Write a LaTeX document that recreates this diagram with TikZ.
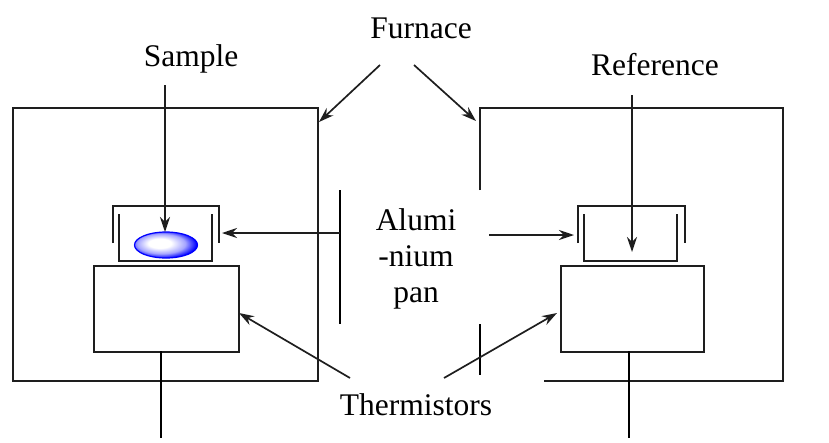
\documentclass[tikz,border=0pt]{standalone}
\usepackage{fontspec}
\setmainfont{Liberation Serif}
\usetikzlibrary{arrows.meta,shapes.geometric}
\definecolor{ink}{HTML}{1E1E1E}
\pgfdeclareradialshading{pelletshade}{\pgfpoint{-6bp}{4bp}}{
  color(0bp)=(white); color(9bp)=(white); color(19bp)=(blue!35); color(27bp)=(blue); color(50bp)=(blue)}
\tikzset{
  wall/.style={draw=ink,line width=1.6pt},
  lead/.style={draw=black,line width=1.4pt},
  pointer/.style={draw=ink,line width=1.7pt,-{Stealth[length=15pt,width=10pt]}},
  lab/.style={font=\fontsize{31.5}{36}\selectfont,text=black,inner sep=0pt,align=center},
  boxshape/.style={draw=ink,line width=1.6pt,rectangle,inner sep=0pt,anchor=north west},
}
\begin{document}
\begin{tikzpicture}[x=1pt,y=-1pt]
\useasboundingbox (0,0) rectangle (829,442);
% labels
\node[lab] (furnace) at (421,28) {Furnace};
\node[lab] (sample) at (191,59) {Sample};
\node[lab] (reference) at (655,65) {Reference};
\node[lab] (alu) at (416,259) {Alumi\\-nium\\pan};
\node[lab] (therm) at (416,405) {Thermistors};
% furnaces
\draw[wall] (318,381) -- (13,381) -- (13,108) -- (318,108) -- cycle;
\draw[wall] (480,190) -- (480,108) -- (783,108) -- (783,381) -- (544,381);
\draw[lead] (480,324) -- (480,375);
\draw[lead] (340,190) -- (340,324);
% blocks
\node[boxshape,minimum width=145pt,minimum height=86pt] (blockL) at (93,265) {};
\node[boxshape,minimum width=143pt,minimum height=86pt] (blockR) at (560,265) {};
% pans
\draw[wall] (113,243) -- (113,206) -- (219,206) -- (219,243);
\draw[wall] (119,214) -- (119,261) -- (212,261) -- (212,214);
\draw[wall] (578,243) -- (578,206) -- (685,206) -- (685,243);
\draw[wall] (584,214) -- (584,261) -- (677,261) -- (677,214);
% sample
\node[ellipse,draw=blue,line width=1.2pt,shading=pelletshade,minimum width=63pt,minimum height=26pt,inner sep=0pt] (pellet) at (166,245) {};
% free ends
\coordinate (sa) at (165,85);
\coordinate (sb) at (165,232);
\coordinate (ra) at (632,95);
\coordinate (rb) at (632,252);
\coordinate (fa) at (380,65);
\coordinate (fb) at (319,122);
\coordinate (fc) at (414,65);
\coordinate (fd) at (476,121);
\coordinate (aa) at (340,233);
\coordinate (ab) at (222,233);
\coordinate (ac) at (489,235);
\coordinate (ad) at (574,235);
\coordinate (ta) at (350,378);
\coordinate (tb) at (239,313);
\coordinate (tc) at (444,378);
\coordinate (td) at (557,313);
\coordinate (la) at (161,351);
\coordinate (lb) at (161,438);
\coordinate (lc) at (629,351);
\coordinate (ld) at (629,438);
\draw[pointer] (sa) -- (sb);
\draw[pointer] (ra) -- (rb);
\draw[pointer] (fa) -- (fb);
\draw[pointer] (fc) -- (fd);
\draw[pointer] (aa) -- (ab);
\draw[pointer] (ac) -- (ad);
\draw[pointer] (ta) -- (tb);
\draw[pointer] (tc) -- (td);
\draw[lead] (la) -- (lb);
\draw[lead] (lc) -- (ld);
\end{tikzpicture}
\end{document}
